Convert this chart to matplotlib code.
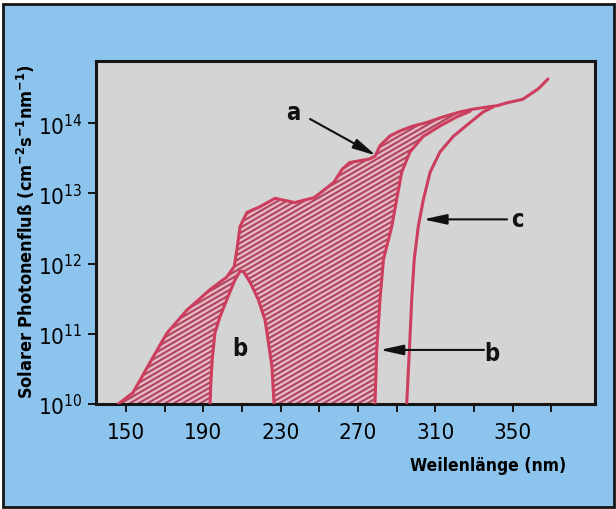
import matplotlib
matplotlib.use("Agg")
import matplotlib.pyplot as plt
import numpy as np
from matplotlib.collections import LineCollection
from matplotlib.patches import Rectangle
from matplotlib.ticker import NullLocator

# curve a: solar photon flux outside the atmosphere (log10 values)
wl_a = [146, 153.6, 162.4, 171.2, 181.6, 193.5, 202.2, 206, 207.4, 209, 212.6, 219.3,
        227.1, 237.3, 247.4, 257.6, 261.7, 265.7, 275.9, 278.8, 281.4, 286.6, 291.7,
        298.5, 305.6, 314, 322.8, 329.5, 336.8, 342, 347, 355.2, 363.3, 368.3]
log_a = [10.0, 10.16, 10.59, 11.01, 11.34, 11.63, 11.81, 11.96, 12.2, 12.53, 12.73, 12.81,
         12.93, 12.87, 12.94, 13.16, 13.34, 13.44, 13.49, 13.53, 13.68, 13.82, 13.89,
         13.96, 14.01, 14.09, 14.16, 14.2, 14.23, 14.25, 14.29, 14.34, 14.49, 14.63]

# curve b: window near 210 nm
wl_b1 = [193.5, 193.8, 194.6, 196, 198.6, 202.8, 206.4, 209, 210.7, 214.3, 218.4, 221.9,
         223.5, 225.5, 226.6]
log_b1 = [10.0, 10.25, 10.63, 11.01, 11.24, 11.53, 11.77, 11.89, 11.89, 11.73, 11.49, 11.2,
          10.91, 10.53, 10.0]

# curve b: long wavelength branch
wl_b2 = [278.8, 279.7, 281.4, 283.2, 287.5, 290.0, 292.6, 296.9, 303.6, 312.4, 321.1, 328]
log_b2 = [10.0, 10.77, 11.49, 12.06, 12.53, 12.91, 13.3, 13.59, 13.81, 13.96, 14.09, 14.17]

# curve c
wl_c = [295.2, 296.6, 297.8, 299.1, 301.2, 303.8, 307.3, 312.4, 319.2, 328, 334.7, 339.9]
log_c = [10.0, 10.77, 11.49, 12.06, 12.53, 12.91, 13.3, 13.59, 13.81, 14.01, 14.16, 14.23]

xticks = [150, 190, 230, 270, 310, 350]
xminor = [170, 210, 250, 290, 330, 370]
ydecades = [10, 11, 12, 13, 14]

RED = "#cc3d5e"


def stripes(ax, clip, angle=30, gap=4.4, color="#ad4661", lw=1.5):
    # diagonal texture (shallower than the built-in hatch), clipped to the region
    w, h = 499.0, 343.0
    t = np.tan(np.radians(angle))
    step = gap / np.cos(np.radians(angle))
    segs = []
    for c in np.arange(-w * t, h, step):
        segs.append([(0, c / h), (1, (c + w * t) / h)])
    lc = LineCollection(segs, colors=color, linewidths=lw, transform=ax.transAxes, zorder=2)
    lc.set_clip_path(clip)
    ax.add_collection(lc)


def main():
    plt.rcParams["font.family"] = ["DejaVu Sans"]
    plt.rcParams["font.stretch"] = "condensed"

    fig = plt.figure(figsize=(6.16, 5.10), dpi=100, facecolor="white")
    fig.patches.append(Rectangle((3 / 616, 2 / 510), 611 / 616, 503 / 510,
                                 transform=fig.transFigure, facecolor="#8cc4ee",
                                 edgecolor="#151515", linewidth=2, zorder=-10))

    ax = fig.add_axes([96 / 616, 1 - 405 / 510, 499 / 616, 343 / 510])
    ax.set_facecolor("#d4d4d4")
    ax.set_yscale("log")
    ax.set_xlim(134.5, 392.6)
    ax.set_ylim(1e10, 10 ** 14.886)

    a_x = np.array(wl_a)
    a_y = np.array(log_a)
    keep = a_x < wl_b2[-1]
    # hatched region: below a, above b
    poly_x = np.concatenate([a_x[keep], wl_b2[::-1], wl_b1[::-1]])
    poly_y = np.concatenate([a_y[keep], log_b2[::-1], log_b1[::-1]])
    region = ax.fill(poly_x, 10 ** poly_y, facecolor="#e7b9c4", linewidth=0, zorder=1)[0]
    stripes(ax, region)

    for xs, ys in [(wl_a, log_a), (wl_b1, log_b1), (wl_b2, log_b2), (wl_c, log_c)]:
        ax.plot(xs, 10 ** np.array(ys), color=RED, linewidth=2.2, zorder=3,
                solid_capstyle="round", clip_on=True)

    arrow = dict(arrowstyle="-|>,head_length=1.0,head_width=0.22", color="#111111",
                 lw=1.5, mutation_scale=14, shrinkA=0, shrinkB=0)
    ax.annotate("", xy=(279.3, 10 ** 13.54), xytext=(245.2, 10 ** 14.06), arrowprops=arrow)
    ax.annotate("", xy=(303.8, 10 ** 12.63), xytext=(347.1, 10 ** 12.63), arrowprops=arrow)
    ax.annotate("", xy=(281.4, 10 ** 10.77), xytext=(335.2, 10 ** 10.77), arrowprops=arrow)
    lab = dict(fontsize=17, fontweight="bold", ha="center", va="center", color="#111111")
    ax.text(236.4, 10 ** 14.16, "a", **lab)
    ax.text(352.3, 10 ** 12.63, "c", **lab)
    ax.text(339.3, 10 ** 10.73, "b", **lab)
    ax.text(209, 10 ** 10.8, "b", **lab)

    ax.set_xticks(xticks)
    ax.set_xticks(xminor, minor=True)
    ax.set_yticks([10.0 ** d for d in ydecades])
    ax.yaxis.set_minor_locator(NullLocator())
    ax.tick_params(which="both", direction="out", length=6, width=1.4,
                   color="#151515", labelsize=16)
    ax.tick_params(axis="x", which="both", pad=7)
    ax.tick_params(axis="y", pad=4)

    for s in ax.spines.values():
        s.set_linewidth(2.2)
        s.set_color("#151515")

    ax.set_ylabel("Solarer Photonenfluß (cm$\\mathdefault{^{-2}}$s$\\mathdefault{^{-1}}$"
                  "nm$\\mathdefault{^{-1}}$)", fontsize=13, fontweight="bold")
    ax.yaxis.set_label_coords(-0.118, 0.505)
    ax.set_xlabel("Weilenlänge (nm)", fontsize=12.5, fontweight="bold")
    ax.xaxis.set_label_coords(0.786, -0.152)

    fig.savefig("out.png", dpi=100, facecolor=fig.get_facecolor())


if __name__ == '__main__':
    main()
